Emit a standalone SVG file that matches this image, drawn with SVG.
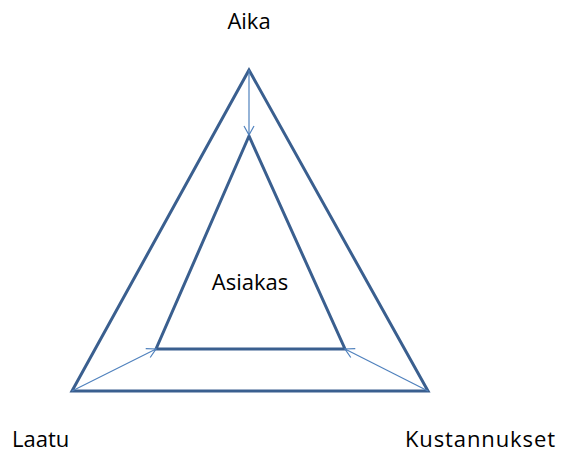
<svg xmlns="http://www.w3.org/2000/svg" width="562" height="455" viewBox="0 0 562 455">
<defs>
<style>
.tri{fill:none;stroke:#3A5F8F;stroke-width:3;stroke-linejoin:miter}
.arr{stroke:#4F81BD;stroke-width:1.2;fill:none}
.lbl{font-family:"Open Sans","Liberation Sans",sans-serif;font-size:22px;fill:#000}
</style>
<marker id="ah" markerWidth="12" markerHeight="12" refX="10" refY="6" orient="auto" markerUnits="userSpaceOnUse">
<path d="M1,1 L10,6 L1,11" fill="none" stroke="#4F81BD" stroke-width="1.2"/>
</marker>
</defs>
<g id="outer"><polygon class="tri" points="249,70 72,391 428,391"/></g>
<g id="inner"><polygon class="tri" points="249,136 156,349 345,349"/></g>
<g id="connectors">
<line class="arr" x1="249" y1="70" x2="249" y2="135" marker-end="url(#ah)"/>
<line class="arr" x1="72" y1="391" x2="156" y2="349" marker-end="url(#ah)"/>
<line class="arr" x1="428" y1="391" x2="345" y2="349" marker-end="url(#ah)"/>
</g>
<g id="aika"><text class="lbl" x="249" y="29" text-anchor="middle">Aika</text></g>
<g id="asiakas"><text class="lbl" x="250" y="290" text-anchor="middle">Asiakas</text></g>
<g id="laatu"><text class="lbl" x="12" y="447">Laatu</text></g>
<g id="kustannukset"><text class="lbl" x="405" y="447" textLength="150">Kustannukset</text></g>
</svg>
